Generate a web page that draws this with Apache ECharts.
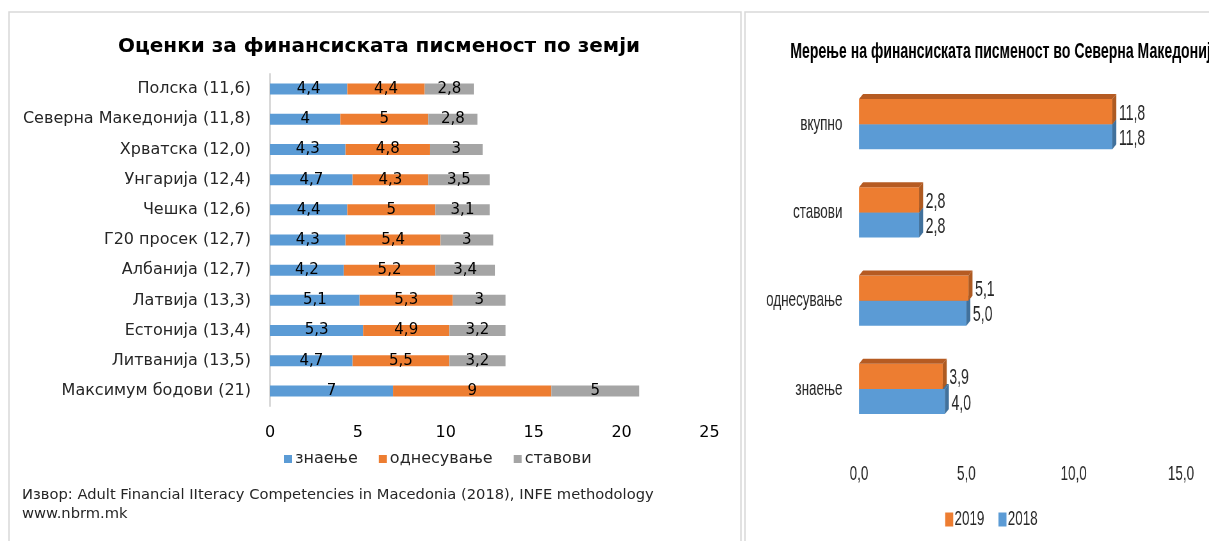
<!DOCTYPE html>
<html>
<head>
<meta charset="utf-8">
<script src="https://cdn.jsdelivr.net/npm/echarts@6/dist/echarts.min.js"></script>
<style>
  html, body { margin: 0; padding: 0; background: #fff; overflow: hidden; }
  #left { position: absolute; left: 0; top: 0; width: 1209px; height: 541px; }
  /* right panel uses a condensed look: drawn wider, then squeezed */
  #right { position: absolute; left: 745px; top: 0; width: 725px; height: 541px;
    transform: scaleX(0.64); transform-origin: 0 0; }
</style>
</head>
<body>
<div id="left"></div>
<div id="right"></div>
<script>
// left chart: scores by country
var countries = ['Полска (11,6)', 'Северна Македонија (11,8)', 'Хрватска (12,0)', 'Унгарија (12,4)',
  'Чешка (12,6)', 'Г20 просек (12,7)', 'Албанија (12,7)', 'Латвија (13,3)', 'Естонија (13,4)',
  'Литванија (13,5)', 'Максимум бодови (21)'];
var knowledge = [4.4, 4, 4.3, 4.7, 4.4, 4.3, 4.2, 5.1, 5.3, 4.7, 7];
var behaviour = [4.4, 5, 4.8, 4.3, 5, 5.4, 5.2, 5.3, 4.9, 5.5, 9];
var attitudes = [2.8, 2.8, 3, 3.5, 3.1, 3, 3.4, 3, 3.2, 3.2, 5];

// right chart: North Macedonia 2018 vs 2019
var components = ['знаење', 'однесување', 'ставови', 'вкупно'];
var y2018 = [4.0, 5.0, 2.8, 11.8];
var y2019 = [3.9, 5.1, 2.8, 11.8];

var txt = '#262626';
var sx = 0.64; // horizontal squeeze of the right panel

function comma(v) { return String(v).replace('.', ','); }

function bar3d(upper, front, top, side) {
  return function (params, api) {
    var val = api.value(0), cat = api.value(1);
    var p0 = api.coord([0, cat]);
    var p1 = api.coord([val, cat]);
    var band = api.size([0, 1])[1];
    var h = band * 0.285;
    var y0 = upper ? p0[1] - h : p0[1];
    var y1 = y0 + h;
    var x0 = p0[0], x1 = p1[0], dx = 4 / sx, dy = 5;
    return {
      type: 'group',
      children: [
        { type: 'rect', shape: { x: x0, y: y0, width: x1 - x0, height: h }, style: { fill: front } },
        { type: 'polygon', shape: { points: [[x0, y0], [x0 + dx, y0 - dy], [x1 + dx, y0 - dy], [x1, y0]] }, style: { fill: top } },
        { type: 'polygon', shape: { points: [[x1, y0], [x1 + dx, y0 - dy], [x1 + dx, y1 - dy], [x1, y1]] }, style: { fill: side } },
        { type: 'text', x: x1 + dx + 4, y: (y0 + y1) / 2 + 2,
          style: { text: val.toFixed(1).replace('.', ','), fill: txt, font: '22px "Liberation Sans"', verticalAlign: 'middle' } }
      ]
    };
  };
}

var inLabel = { show: true, position: 'inside', color: '#000', fontSize: 15, fontFamily: 'DejaVu Sans',
  formatter: function (p) { return comma(p.value); } };

var leftChart = echarts.init(document.getElementById('left'));
leftChart.setOption({
  animation: false,
  textStyle: { fontFamily: 'DejaVu Sans' },
  title: { text: 'Оценки за финансиската писменост по земји', left: 374, top: 32, textAlign: 'center',
    textStyle: { fontSize: 20, fontWeight: 'bold', color: '#000', fontFamily: 'DejaVu Sans' } },
  legend: { data: ['знаење', 'однесување', 'ставови'], left: 279, top: 446, icon: 'rect',
    itemWidth: 8, itemHeight: 8, itemGap: 21, textStyle: { fontSize: 16, color: txt, padding: [0, 0, 0, -2] } },
  grid: { left: 270, top: 74, width: 439.5, height: 332 },
  xAxis: { type: 'value', min: 0, max: 25, interval: 5, splitLine: { show: false },
    axisLine: { show: false }, axisTick: { show: false },
    axisLabel: { fontSize: 16, color: '#000', margin: 19 } },
  yAxis: { type: 'category', data: countries, inverse: true,
    axisLine: { lineStyle: { color: '#d9d9d9', width: 2 } }, axisTick: { show: false },
    axisLabel: { fontSize: 16, color: txt, margin: 19 } },
  series: [
    { name: 'знаење', type: 'bar', stack: 'a', data: knowledge,
      barWidth: 11, itemStyle: { color: '#5b9bd5' }, label: inLabel },
    { name: 'однесување', type: 'bar', stack: 'a', data: behaviour,
      barWidth: 11, itemStyle: { color: '#ed7d31' }, label: inLabel },
    { name: 'ставови', type: 'bar', stack: 'a', data: attitudes,
      barWidth: 11, itemStyle: { color: '#a5a5a5' }, label: inLabel }
  ],
  graphic: [
    { type: 'rect', shape: { x: 9, y: 12, width: 732, height: 560 }, silent: true,
      style: { fill: null, stroke: '#d9d9d9', lineWidth: 1.5 } },
    { type: 'rect', shape: { x: 745, y: 12, width: 500, height: 560 }, silent: true,
      style: { fill: null, stroke: '#d9d9d9', lineWidth: 1.5 } },
    { type: 'text', left: 22, top: 488, style: { text: 'Извор: Adult Financial IIteracy Competencies in Macedonia (2018), INFE methodology',
      fill: txt, font: '14.7px "DejaVu Sans"' } },
    { type: 'text', left: 22, top: 507, style: { text: 'www.nbrm.mk', fill: txt, font: '14.7px "DejaVu Sans"' } }
  ]
});

var rightChart = echarts.init(document.getElementById('right'));
rightChart.setOption({
  animation: false,
  textStyle: { fontFamily: 'Liberation Sans' },
  title: { text: 'Мерење на финансиската писменост во Северна Македонија', left: (787 - 745) / sx, top: 36,
    textStyle: { fontSize: 22, fontWeight: 'bold', color: '#000', fontFamily: 'Liberation Sans' } },
  legend: { data: ['2019', '2018'], left: (942 - 745) / sx, top: 504, icon: 'rect',
    itemWidth: 8 / sx, itemHeight: 14, itemGap: 22, textStyle: { fontSize: 21, color: txt, padding: [0, 0, 0, -3] } },
  grid: { left: (859 - 745) / sx, top: 80, width: 322 / sx, height: 353 },
  xAxis: { type: 'value', min: 0, max: 15, interval: 5, splitLine: { show: false },
    axisLine: { show: false }, axisTick: { show: false },
    axisLabel: { fontSize: 21, color: txt, margin: 31,
      formatter: function (v) { return v.toFixed(1).replace('.', ','); } } },
  yAxis: { type: 'category', data: components,
    axisLine: { show: false }, axisTick: { show: false },
    axisLabel: { fontSize: 21, color: txt, margin: 26 } },
  series: [
    { name: '2018', type: 'custom',
      data: y2018.map(function (v, i) { return [v, i]; }), encode: { x: 0, y: 1 },
      itemStyle: { color: '#5b9bd5' }, renderItem: bar3d(false, '#5b9bd5', '#41719c', '#41719c') },
    { name: '2019', type: 'custom',
      data: y2019.map(function (v, i) { return [v, i]; }), encode: { x: 0, y: 1 },
      itemStyle: { color: '#ed7d31' }, renderItem: bar3d(true, '#ed7d31', '#b65b22', '#ae5a21') }
  ]
});
</script>
</body>
</html>
